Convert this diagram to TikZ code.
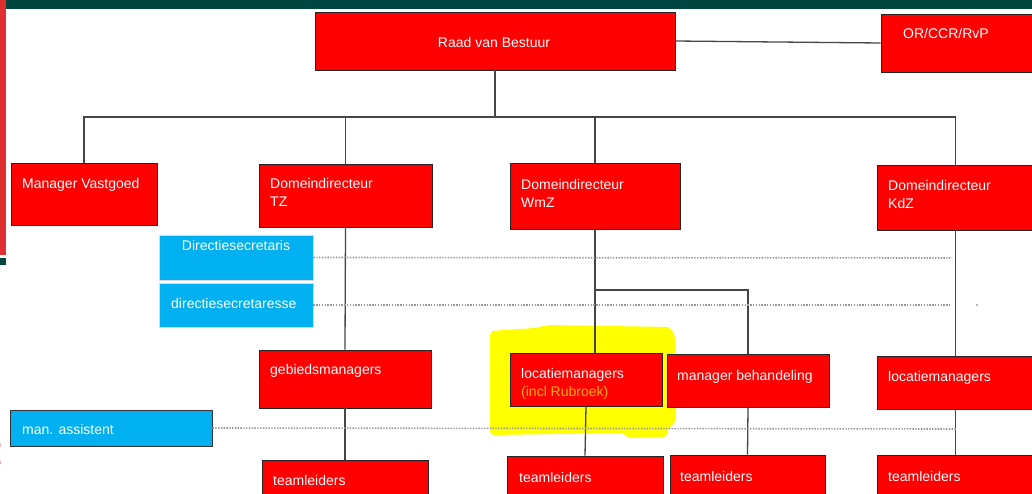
\documentclass[tikz,border=0pt]{standalone}
\usepackage{fontspec}
\setmainfont{Liberation Sans}
\usetikzlibrary{fit,calc}

\definecolor{orgred}{RGB}{255,0,0}
\definecolor{staffblue}{RGB}{0,176,240}
\definecolor{hilite}{RGB}{255,255,0}
\definecolor{bandteal}{RGB}{0,70,64}
\definecolor{edgered}{RGB}{222,48,48}
\definecolor{noteorange}{RGB}{255,176,0}
\definecolor{linegray}{RGB}{70,70,70}
\definecolor{dotgray}{RGB}{150,150,150}

\tikzset{
  unit/.style={draw=black!85, line width=0.9pt, fill=orgred, inner sep=0pt},
  staff/.style={draw=white!85!black, line width=0.9pt, fill=staffblue, inner sep=0pt},
  staffdark/.style={draw=black!80, line width=0.9pt, fill=staffblue, inner sep=0pt},
  lbl/.style={text=white, inner sep=0pt, font=\fontsize{14}{17}\selectfont},
  conn/.style={draw=linegray, line width=1.3pt},
  stem/.style={draw=linegray, line width=2pt},
  staffline/.style={draw=dotgray, line width=1.6pt, dash pattern=on 1.4pt off 1.4pt}
}

\begin{document}
\begin{tikzpicture}[x=1pt,y=-1pt]
\useasboundingbox (0,0) rectangle (1032,493);
\clip (0,0) rectangle (1032,493);

% page decoration: top band and left edge
\fill[bandteal] (5,0) rectangle (1032,8.5);
\fill[edgered] (0,0) rectangle (5.5,255);
\fill[bandteal] (0,258) rectangle (6,265);
\draw[edgered!40, line width=1.5pt] (0.5,464) arc[start angle=160, end angle=200, radius=30];

% highlight behind the Rubroek unit
\fill[hilite, rounded corners=4pt]
  (490,331) -- (535,328) -- (548,325) -- (670,327) -- (675,335) -- (676,422)
  -- (668,428) -- (667,437) -- (627,438) -- (625,433) -- (490,435) -- cycle;

% boxes
\node[unit, fit={(315,12)(675,70)}] (raad) {};
\node[unit, fit={(881,14)(1040,72)}] (or) {};
\node[unit, fit={(11,163)(157,225)}] (mv) {};
\node[unit, fit={(259,164)(432,227)}] (tz) {};
\node[unit, fit={(510,163)(680,229)}] (wmz) {};
\node[unit, fit={(877,165)(1034,230)}] (kdz) {};
\node[staff, fit={(159,235)(313,280)}] (ds1) {};
\node[staff, fit={(159,283)(313,327)}] (ds2) {};
\node[unit, fit={(259,350)(431,408)}] (gm) {};
\node[staffdark, fit={(10,410)(212,446)}] (ma) {};
\node[unit, fit={(510,353)(662,406)}] (loc) {};
\node[unit, fit={(667,354)(829,407)}] (mb) {};
\node[unit, fit={(877,356)(1034,409)}] (lk) {};
\node[unit, fit={(262,460)(428,500)}] (tl0) {};
\node[unit, fit={(507,456)(663,500)}] (tl1) {};
\node[unit, fit={(670,455)(825,500)}] (tl2) {};
\node[unit, fit={(877,455)(1034,500)}] (tl3) {};

% labels
\node[lbl, anchor=base] (traad) at (494,47) {Raad van Bestuur};
\node[lbl, anchor=base west] (tor) at (903,38) {OR/CCR/RvP};
\node[lbl, anchor=base west] (tmv) at (22,188) {Manager Vastgoed};
\node[lbl, anchor=base west] (ttz1) at (270,188) {Domeindirecteur};
\node[lbl, anchor=base west] (ttz2) at (270,206) {TZ};
\node[lbl, anchor=base west] (twmz1) at (521,189) {Domeindirecteur};
\node[lbl, anchor=base west] (twmz2) at (521,207) {WmZ};
\node[lbl, anchor=base west] (tkdz1) at (888,190) {Domeindirecteur};
\node[lbl, anchor=base west] (tkdz2) at (888,208) {KdZ};
\node[lbl, anchor=base] (tds1) at (236,250) {Directiesecretaris};
\node[lbl, anchor=base west] (tds2) at (171,308) {directiesecretaresse};
\node[lbl, anchor=base west] (tgm) at (270,374) {gebiedsmanagers};
\node[lbl, anchor=base west] (tma) at (22,434) {man. assistent};
\node[lbl, anchor=base west] (tloc1) at (521,378) {locatiemanagers};
\node[lbl, anchor=base west, text=noteorange] (tloc2) at (521,396) {(incl Rubroek)};
\node[lbl, anchor=base west] (tmb) at (677,380) {manager behandeling};
\node[lbl, anchor=base west] (tlk) at (888,381) {locatiemanagers};
\node[lbl, anchor=base west] (ttl0) at (273,485) {teamleiders};
\node[lbl, anchor=base west] (ttl1) at (519,482) {teamleiders};
\node[lbl, anchor=base west] (ttl2) at (680,481) {teamleiders};
\node[lbl, anchor=base west] (ttl3) at (888,481) {teamleiders};

% reporting lines
\coordinate (bus) at (0,117);
\coordinate (split) at (0,290);
\draw[conn] (raad.east) -- (or.west);
\draw[stem] (raad.south) -- (raad.south |- bus);
\draw[conn] (mv.north) -- (mv.north |- bus) -- (kdz.north |- bus) -- (kdz.north);
\draw[conn] (tz.north) -- (tz.north |- bus);
\draw[conn] (wmz.north) -- (wmz.north |- bus);
\draw[stem] (raad.south |- bus) -- (wmz.north |- bus);

\draw[conn] (tz.south) -- (gm.north);
\draw[conn] (gm.south) -- (tl0.north);

\draw[stem] (wmz.south) -- (wmz.south |- split);
\draw[conn] (wmz.south |- split) -- (wmz.south |- loc.north);
\draw[conn] (wmz.south |- split) -| (mb.north);
\draw[conn] (loc.south) -- (tl1.north);
\draw[conn] (mb.south) -- (tl2.north);

\draw[conn] (kdz.south) -- (lk.north);
\draw[conn] (lk.south) -- (tl3.north);

% staff (dotted) lines
\coordinate (e1) at (952,258);
\coordinate (e2) at (950,305);
\coordinate (e3) at (957,429);
\draw[staffline] (ds1.east) -- (e1);
\draw[staffline] (ds2.east) -- (e2);
\draw[staffline] (ma.east) -- (e3);
\fill[dotgray!70] (976,304) rectangle (978,306);
\end{tikzpicture}
\end{document}
